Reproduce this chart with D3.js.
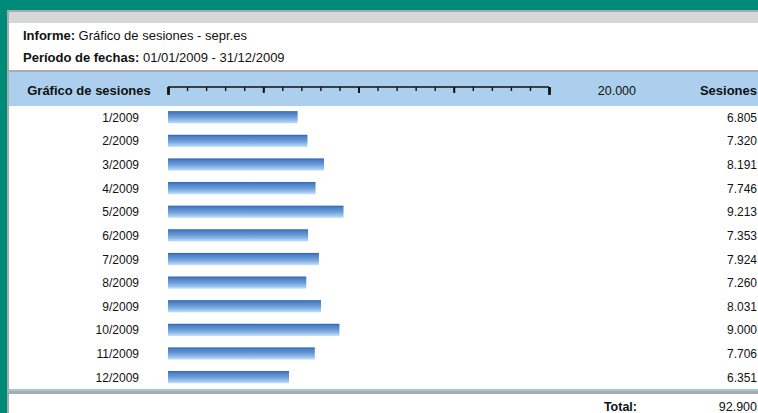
<!DOCTYPE html>
<html>
<head>
<meta charset="utf-8">
<script src="https://cdn.jsdelivr.net/npm/d3@7"></script>
<style>
  html, body { margin: 0; padding: 0; background: #008b78; }
  svg { display: block; font-family: "Liberation Sans", Arial, sans-serif; }
</style>
</head>
<body>
<svg id="chart" width="758" height="413"></svg>
<script>
// Monthly sessions for 2009
const months = ["1/2009","2/2009","3/2009","4/2009","5/2009","6/2009",
                "7/2009","8/2009","9/2009","10/2009","11/2009","12/2009"];
const sessions = [6805, 7320, 8191, 7746, 9213, 7353, 7924, 7260, 8031, 9000, 7706, 6351];
const axisMax = 20000;
const totalSessions = 92900;

const fmt = n => d3.format(",")(n).replace(/,/g, ".");

const svg = d3.select("#chart");
const W = 758, H = 413;

// window frame
svg.append("rect").attr("x", 0).attr("y", 0).attr("width", W).attr("height", H).attr("fill", "#008b78");
svg.append("rect").attr("x", 7).attr("y", 10).attr("width", W - 7).attr("height", H - 10).attr("fill", "#a9abae");
svg.append("rect").attr("x", 9).attr("y", 12).attr("width", W - 9).attr("height", 11).attr("fill", "#d5d7da");
svg.append("rect").attr("x", 9).attr("y", 23).attr("width", W - 9).attr("height", H - 23).attr("fill", "#ffffff");

// report title
const info = svg.append("text").attr("x", 23).attr("y", 40).attr("font-size", 13).attr("fill", "#111");
info.append("tspan").attr("font-weight", "bold").text("Informe:");
info.append("tspan").text(" Gráfico de sesiones - sepr.es");
const per = svg.append("text").attr("x", 23).attr("y", 62).attr("font-size", 13).attr("fill", "#111");
per.append("tspan").attr("font-weight", "bold").text("Período de fechas:");
per.append("tspan").text(" 01/01/2009 - 31/12/2009");

// header band
svg.append("rect").attr("x", 9).attr("y", 70).attr("width", W - 9).attr("height", 2).attr("fill", "#a9abae");
svg.append("rect").attr("x", 9).attr("y", 72).attr("width", W - 9).attr("height", 34).attr("fill", "#abcfec");
svg.append("text").attr("x", 89).attr("y", 95).attr("text-anchor", "middle")
  .attr("font-size", 13).attr("font-weight", "bold").attr("fill", "#111").text("Gráfico de sesiones");
svg.append("text").attr("x", 636).attr("y", 95).attr("text-anchor", "end")
  .attr("font-size", 12.5).attr("fill", "#111").text(fmt(axisMax));
svg.append("text").attr("x", 757).attr("y", 95).attr("text-anchor", "end")
  .attr("font-size", 13).attr("font-weight", "bold").attr("fill", "#111").text("Sesiones");

// horizontal scale
const x = d3.scaleLinear().domain([0, axisMax]).range([168, 549]);
const y = d3.scaleBand().domain(months).range([105.5, 389]).paddingInner(0.48).paddingOuter(0.24);

// ruler: minor ticks every 1000, major every 5000
const ruler = svg.append("g").attr("transform", "translate(0,87)");
ruler.append("g")
  .call(d3.axisBottom(x).tickValues(d3.range(0, axisMax + 1, 1000)).tickSize(4).tickFormat("").tickSizeOuter(0))
  .call(g => g.select(".domain").attr("stroke", "#111").attr("stroke-width", 1.6).attr("d", `M${x(0)},0H${x(axisMax)}`))
  .call(g => g.selectAll(".tick line").attr("stroke", "#111").attr("stroke-width", 1.4));
ruler.append("g")
  .call(d3.axisBottom(x).tickValues(d3.range(0, axisMax + 1, 5000)).tickSize(6).tickFormat("").tickSizeOuter(0))
  .call(g => g.select(".domain").remove())
  .call(g => g.selectAll(".tick line").attr("stroke", "#111").attr("stroke-width", 2));
ruler.append("g")
  .call(d3.axisBottom(x).tickValues([0, axisMax]).tickSize(8).tickFormat("").tickSizeOuter(0))
  .call(g => g.select(".domain").remove())
  .call(g => g.selectAll(".tick line").attr("stroke", "#111").attr("stroke-width", 2.6));

// bar gradient
const defs = svg.append("defs");
const grad = defs.append("linearGradient").attr("id", "barGrad").attr("x1", 0).attr("y1", 0).attr("x2", 0).attr("y2", 1);
[[0, "#2a5eae"], [0.15, "#4b80c6"], [0.45, "#6797d4"], [0.72, "#8cb9e8"], [0.92, "#b3d6f5"], [1, "#d4e8fa"]]
  .forEach(([o, c]) => grad.append("stop").attr("offset", o).attr("stop-color", c));

const rows = svg.append("g");
rows.selectAll("rect.bar").data(sessions).join("rect")
  .attr("class", "bar")
  .attr("x", x(0))
  .attr("y", (d, i) => y(months[i]))
  .attr("width", d => x(d) - x(0))
  .attr("height", y.bandwidth())
  .attr("fill", "url(#barGrad)");

rows.selectAll("text.month").data(months).join("text")
  .attr("class", "month")
  .attr("x", 139).attr("y", m => y(m) + y.bandwidth() / 2 + 4.5)
  .attr("text-anchor", "end").attr("font-size", 12).attr("fill", "#111").text(m => m);

rows.selectAll("text.val").data(sessions).join("text")
  .attr("class", "val")
  .attr("x", 757).attr("y", (d, i) => y(months[i]) + y.bandwidth() / 2 + 4.5)
  .attr("text-anchor", "end").attr("font-size", 12).attr("fill", "#111").text(d => fmt(d));

// footer separator and total
svg.append("rect").attr("x", 9).attr("y", 389).attr("width", W - 9).attr("height", 2).attr("fill", "#9ec4e6");
svg.append("rect").attr("x", 9).attr("y", 391).attr("width", W - 9).attr("height", 3).attr("fill", "#a9abae");
svg.append("text").attr("x", 637).attr("y", 411).attr("text-anchor", "end")
  .attr("font-size", 12.5).attr("font-weight", "bold").attr("fill", "#111").text("Total:");
svg.append("text").attr("x", 757).attr("y", 411).attr("text-anchor", "end")
  .attr("font-size", 12.5).attr("fill", "#111").text(fmt(totalSessions));
</script>
</body>
</html>
